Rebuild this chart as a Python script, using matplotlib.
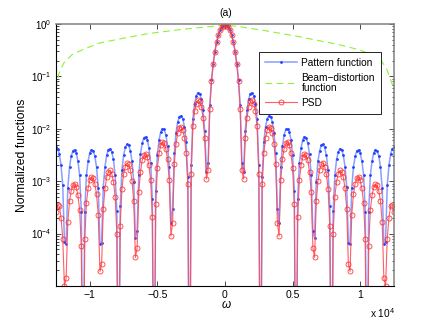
import numpy as np
import matplotlib; matplotlib.use("Agg")
import matplotlib.pyplot as plt
from matplotlib.ticker import FixedLocator, LogLocator, NullFormatter, FuncFormatter

plt.rcParams['font.family'] = ['Liberation Sans', 'DejaVu Sans']
plt.rcParams['mathtext.fontset'] = 'custom'
plt.rcParams['mathtext.rm'] = 'Liberation Sans'
plt.rcParams['mathtext.it'] = 'Liberation Sans:italic'

# sample grid (rad/s), 201 samples over the plotted span
omega = np.linspace(-12476, 12476, 201)

# pattern function (symmetric about 0)
pattern = [
    4.4e-3, 4.2e-3, 3.3e-3, 2.0e-3, 8.3e-4, 7e-5,
    6.4e-5, 7.5e-4, 1.85e-3, 3.0e-3, 3.8e-3, 4.0e-3, 3.5e-3, 2.4e-3, 1.3e-3, 2.6e-4,
    1e-8,
    2.6e-4, 1.3e-3, 2.4e-3, 3.5e-3, 4.0e-3, 3.8e-3, 3.0e-3, 1.85e-3, 7.5e-4, 6.4e-5,
    6.7e-5, 7.9e-4, 1.9e-3, 3.15e-3, 4.0e-3, 4.2e-3, 3.6e-3, 2.6e-3, 1.3e-3, 2.7e-4,
    1e-8,
    3.3e-4, 1.6e-3, 3.1e-3, 4.4e-3, 5.1e-3, 4.85e-3, 3.8e-3, 2.4e-3, 9.6e-4, 8.2e-5,
    1.1e-4, 1.3e-3, 3.3e-3, 5.3e-3, 6.8e-3, 7.1e-3, 6.2e-3, 4.3e-3, 2.25e-3, 4.6e-4,
    1e-8,
    6.6e-4, 3.2e-3, 6.2e-3, 8.8e-3, 0.0101, 9.7e-3, 7.7e-3, 4.7e-3, 1.9e-3, 1.6e-4,
    2.9e-4, 3.4e-3, 8.3e-3, 0.0135, 0.0171, 0.0179, 0.0156, 0.011, 5.7e-3, 1.2e-3,
    1e-8,
    2.0e-3, 0.0155, 0.030, 0.0425, 0.0487, 0.0466, 0.0368, 0.0227, 9.2e-3, 1.5e-3,
    2.2e-3, 0.028, 0.085, 0.171, 0.295, 0.444, 0.605, 0.759, 0.886, 0.97,
    1.0,
    0.97, 0.886, 0.759, 0.605, 0.444, 0.295, 0.171, 0.085, 0.028, 2.2e-3,
    1.5e-3, 9.2e-3, 0.0227, 0.0368, 0.0466, 0.0487, 0.0425, 0.030, 0.0155, 2.0e-3,
    1e-8,
    1.2e-3, 5.7e-3, 0.011, 0.0156, 0.0179, 0.0171, 0.0135, 8.3e-3, 3.4e-3, 2.9e-4,
    1.6e-4, 1.9e-3, 4.7e-3, 7.7e-3, 9.7e-3, 0.0101, 8.8e-3, 6.2e-3, 3.2e-3, 6.6e-4,
    1e-8,
    4.6e-4, 2.25e-3, 4.3e-3, 6.2e-3, 7.1e-3, 6.8e-3, 5.3e-3, 3.3e-3, 1.3e-3, 1.1e-4,
    8.2e-5, 9.6e-4, 2.4e-3, 3.8e-3, 4.85e-3, 5.1e-3, 4.4e-3, 3.1e-3, 1.6e-3, 3.3e-4,
    1e-8,
    2.7e-4, 1.3e-3, 2.6e-3, 3.6e-3, 4.2e-3, 4.0e-3, 3.15e-3, 1.9e-3, 7.9e-4, 6.7e-5,
    6.4e-5, 7.5e-4, 1.85e-3, 3.0e-3, 3.8e-3, 4.0e-3, 3.5e-3, 2.4e-3, 1.3e-3, 2.6e-4,
    1e-8,
    2.6e-4, 1.3e-3, 2.4e-3, 3.5e-3, 4.0e-3, 3.8e-3, 3.0e-3, 1.85e-3, 7.5e-4, 6.4e-5,
    7e-5, 8.3e-4, 2.0e-3, 3.3e-3, 4.2e-3, 4.4e-3,
]

# PSD
psd = [
    2.6e-4, 3.5e-4, 3.3e-4, 2.0e-4, 8e-5, 1.0e-5,
    1.4e-5, 1.65e-4, 4.1e-4, 6.6e-4, 8.4e-4, 8.7e-4, 7.6e-4, 5.4e-4, 2.8e-4, 5.7e-5,
    1e-8,
    7.8e-5, 3.8e-4, 7.3e-4, 1.04e-3, 1.2e-3, 1.14e-3, 9e-4, 5.6e-4, 2.3e-4, 1.9e-5,
    2.6e-5, 3e-4, 7.4e-4, 1.2e-3, 1.5e-3, 1.6e-3, 1.4e-3, 9.8e-4, 5.1e-4, 1.0e-4,
    1e-8,
    1.4e-4, 7e-4, 1.35e-3, 1.9e-3, 2.2e-3, 2.1e-3, 1.65e-3, 1.0e-3, 4.1e-4, 3.5e-5,
    5.3e-5, 6.2e-4, 1.5e-3, 2.5e-3, 3.1e-3, 3.3e-3, 2.9e-3, 2.0e-3, 1.05e-3, 2.1e-4,
    1e-8,
    3.6e-4, 1.8e-3, 3.4e-3, 4.9e-3, 5.6e-3, 5.3e-3, 4.2e-3, 2.6e-3, 1.05e-3, 9e-5,
    1.6e-4, 2.1e-3, 5.1e-3, 8.3e-3, 0.0105, 0.0109, 9.5e-3, 6.7e-3, 3.5e-3, 9e-4,
    1e-8,
    1.4e-3, 0.0111, 0.0214, 0.0303, 0.0348, 0.0333, 0.0263, 0.0162, 6.6e-3, 1.1e-3,
    1.6e-3, 0.024, 0.08, 0.171, 0.295, 0.444, 0.605, 0.759, 0.886, 0.97,
    1.0,
    0.97, 0.886, 0.759, 0.605, 0.444, 0.295, 0.171, 0.08, 0.024, 1.6e-3,
    1.1e-3, 6.6e-3, 0.0162, 0.0263, 0.0333, 0.0348, 0.0303, 0.0214, 0.0111, 1.4e-3,
    1e-8,
    9e-4, 3.5e-3, 6.7e-3, 9.5e-3, 0.0109, 0.0105, 8.3e-3, 5.1e-3, 2.1e-3, 1.6e-4,
    9e-5, 1.05e-3, 2.6e-3, 4.2e-3, 5.3e-3, 5.6e-3, 4.9e-3, 3.4e-3, 1.8e-3, 3.6e-4,
    1e-8,
    2.1e-4, 1.05e-3, 2.0e-3, 2.9e-3, 3.3e-3, 3.1e-3, 2.5e-3, 1.5e-3, 6.2e-4, 5.3e-5,
    3.5e-5, 4.1e-4, 1.0e-3, 1.65e-3, 2.1e-3, 2.2e-3, 1.9e-3, 1.35e-3, 7e-4, 1.4e-4,
    1e-8,
    1.0e-4, 5.1e-4, 9.8e-4, 1.4e-3, 1.6e-3, 1.5e-3, 1.2e-3, 7.4e-4, 3e-4, 2.6e-5,
    1.9e-5, 2.3e-4, 5.6e-4, 9e-4, 1.14e-3, 1.2e-3, 1.04e-3, 7.3e-4, 3.8e-4, 7.8e-5,
    1e-8,
    5.7e-5, 2.8e-4, 5.4e-4, 7.6e-4, 8.7e-4, 8.4e-4, 6.6e-4, 4.1e-4, 1.65e-4, 1.4e-5,
    1.0e-5, 8e-5, 2.0e-4, 3.3e-4, 3.5e-4, 2.6e-4,
]

# beam-distortion function (smooth, dashed)
beam_w = [-12476, -12280, -11900, -11290, -10550, -9310, -7590, -5590, -3140, -1160, 0,
          1060, 3040, 5520, 8470, 9950, 11430, 11930, 12370, 12476]
beam = [0.058, 0.11, 0.18, 0.26, 0.32, 0.43, 0.53, 0.66, 0.79, 0.89, 0.95,
        0.89, 0.74, 0.57, 0.40, 0.32, 0.22, 0.14, 0.068, 0.055]

xticks = [-1e4, -5e3, 0, 5e3, 1e4]
xticklabels = ["\u22121", "\u22120.5", "0", "0.5", "1"]

fig = plt.figure(figsize=(4.36, 3.22), dpi=100)
ax = fig.add_axes([0.1284, 0.1118, 0.7753, 0.8137])
ax.plot(omega, pattern, color=(0.55, 0.62, 1.0), lw=1.1, marker='o', ms=2.0,
        mfc=(0.12, 0.25, 1.0), mec='none', label='Pattern function')
ax.plot(beam_w, beam, color=(0.55, 0.95, 0.2), lw=0.8, ls=(0, (6, 4)),
        label='Beam\u2212distortion\nfunction')
ax.plot(omega, psd, color=(1.0, 0.3, 0.35), lw=0.8, alpha=0.9, marker='o', ms=3.6,
        mfc='none', mec=(1.0, 0.15, 0.15), mew=0.6, label='PSD')

ax.set_yscale('log')
ax.set_xlim(-12476, 12476)
ax.set_ylim(1e-5, 1.0)
ax.yaxis.set_major_locator(FixedLocator([1e-4, 1e-3, 1e-2, 1e-1, 1e0]))
ax.yaxis.set_minor_locator(LogLocator(base=10, subs=np.arange(2, 10)))
ax.yaxis.set_minor_formatter(NullFormatter())
ax.yaxis.set_major_formatter(FuncFormatter(lambda v, p: r'$10^{%d}$' % int(round(np.log10(v)))))
ax.set_xticks(xticks)
ax.set_xticklabels(xticklabels)
ax.tick_params(which='both', direction='in', top=True, right=True, labelsize=7.5, width=0.5)
ax.tick_params(which='major', length=3.5, pad=3)
ax.tick_params(which='minor', length=1.8)
ax.tick_params(axis='y', which='major', labelsize=7.0, pad=3.5)
for s in ['left', 'bottom']:
    ax.spines[s].set_linewidth(0.8)
for s in ['top', 'right']:
    ax.spines[s].set_color('0.5')
    ax.spines[s].set_linewidth(1.1)

ax.set_ylabel('Normalized functions', fontsize=8.7)
ax.yaxis.set_label_coords(-0.082, 0.5)
fig.text(225.7 / 436, 1 - 305 / 322, '\u03c9', fontsize=8.5, style='italic', ha='center', va='center')
fig.text(226 / 436, 1 - 13 / 322, '(a)', fontsize=7.5, ha='center', va='center')
fig.text(383 / 436, 1 - 313 / 322, r'x 10$^{4}$', fontsize=7.3, ha='center', va='center')

leg = ax.legend(loc='upper right', bbox_to_anchor=(0.9615, 0.894), borderaxespad=0,
                fontsize=7.3, fancybox=False, framealpha=1, edgecolor='black',
                handlelength=3.1, handletextpad=0.45, borderpad=0.6, labelspacing=0.5)
leg.get_frame().set_linewidth(0.6)
for t in leg.get_texts():
    t.set_linespacing(0.95)
fig.savefig('out.png', dpi=100)
